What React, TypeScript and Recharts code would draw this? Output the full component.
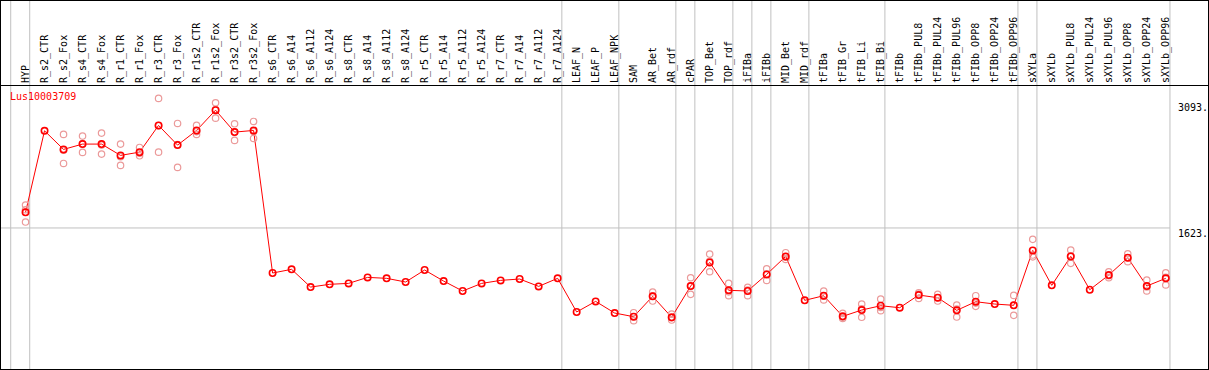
import React from 'react';
import { ComposedChart, Line, XAxis, YAxis, ReferenceLine } from 'recharts';

const categories = [
  'HYP', 'R_s2_CTR', 'R_s2_Fox', 'R_s4_CTR', 'R_s4_Fox', 'R_r1_CTR', 'R_r1_Fox', 'R_r3_CTR', 'R_r3_Fox',
  'R_r1s2_CTR', 'R_r1s2_Fox', 'R_r3s2_CTR', 'R_r3s2_Fox', 'R_s6_CTR', 'R_s6_A14', 'R_s6_A112', 'R_s6_A124',
  'R_s8_CTR', 'R_s8_A14', 'R_s8_A112', 'R_s8_A124', 'R_r5_CTR', 'R_r5_A14', 'R_r5_A112', 'R_r5_A124',
  'R_r7_CTR', 'R_r7_A14', 'R_r7_A112', 'R_r7_A124', 'LEAF_N', 'LEAF_P', 'LEAF_NPK', 'SAM', 'AR_Bet', 'AR_rdf',
  'cPAR', 'TOP_Bet', 'TOP_rdf', 'iFIBa', 'iFIBb', 'MID_Bet', 'MID_rdf', 'tFIBa', 'tFIB_Gr', 'tFIB_Li', 'tFIB_Bi',
  'tFIBb', 'tFIBb_PUL8', 'tFIBb_PUL24', 'tFIBb_PUL96', 'tFIBb_OPP8', 'tFIBb_OPP24', 'tFIBb_OPP96',
  'sXYLa', 'sXYLb', 'sXYLb_PUL8', 'sXYLb_PUL24', 'sXYLb_PUL96', 'sXYLb_OPP8', 'sXYLb_OPP24', 'sXYLb_OPP96',
];

// mean expression per sample
const meanValues = [
  1805, 2757, 2540, 2602, 2602, 2470, 2508, 2820, 2590, 2761, 2998, 2742, 2761,
  1097, 1140, 933, 965, 976, 1046, 1035, 992, 1132, 1003, 887, 976, 1011, 1027, 941, 1035,
  642, 766, 630, 587, 825, 580, 945, 1221, 895, 887, 1081, 1291, 778,
  832, 591, 665, 715, 692, 840, 809, 661, 762, 735, 720,
  1361, 953, 1291, 902, 1073, 1275, 945, 1035,
];

// replicates (null = hidden behind the mean marker)
const rep1 = [
  1890, null, 2715, 2695, 2730, 2602, 2563, 3135, 2843, 2820, 3084, 2839, 2866,
  null, null, null, null, null, null, null, null, null, null, null, null, null, null, null, null,
  null, null, null, 634, 875, 618, 1042, 1318, 976, 930, 1147, 1334, null,
  887, 626, 735, 793, null, 867, 848, 723, 832, null, 836,
  1490, null, 1365, null, 1112, 1322, 1015, 1100,
];
const rep2 = [
  1835, null, 2530, 2605, 2590, 2455, 2495, 2817, 2597, 2748, 3005, 2742, 2749,
  null, null, null, null, null, null, null, null, null, null, null, null, null, null, null, null,
  null, null, null, 587, 830, 574, 945, 1233, 877, 899, 1085, 1283, null,
  827, 580, 680, 695, null, 852, 809, 677, 746, null, 721,
  1307, null, 1298, null, 1065, 1275, 933, 1048,
];
const rep3 = [
  1692, null, 2376, 2505, 2485, 2353, 2465, 2508, 2330, 2715, 2905, 2645, 2668,
  null, null, null, null, null, null, null, null, null, null, null, null, null, null, null, null,
  null, null, null, 540, 770, 548, 848, 1112, 832, 832, 1011, 1256, null,
  782, 567, 580, 657, null, 801, 770, 583, 708, null, 603,
  1286, null, 1210, null, 1042, 1229, 887, 957,
];

const yTicks = [0, 1623, 3093];
// sample groups end after these indices (-1 = before the first sample)
const groupEnds = [-1, 0, 28, 31, 34, 35, 37, 38, 39, 41, 45, 52, 53, 60];

const data = categories.map((name, i) => ({
  idx: i,
  name,
  mean: meanValues[i],
  rep1: rep1[i],
  rep2: rep2[i],
  rep3: rep3[i],
}));

const MONO = '"DejaVu Sans Mono", monospace';
const GRID = '#c0c0c0';
const PINK = '#eb9a9a';

const CategoryTick = (props: any) => {
  const { x, payload } = props;
  return (
    <text
      transform={`translate(${x + 3.5},83) rotate(-90)`}
      fontSize={10}
      fontFamily={MONO}
      fill="#000"
      textAnchor="start"
    >
      {categories[payload.value]}
    </text>
  );
};

const ValueTick = (props: any) => {
  const { x, y, payload } = props;
  const v = payload.value;
  return (
    <text x={x} y={v === 0 ? y - 1 : y + 9} fontSize={10} fontFamily={MONO} fill="#000" textAnchor="start">
      {v === 0 ? '0' : `${v}.`}
    </text>
  );
};

export default function App() {
  const repDot = { r: 3.2, stroke: PINK, strokeWidth: 1.2, fill: 'none' };
  return (
    <div style={{ position: 'absolute', left: 0, top: 0, width: 1209, height: 370, background: '#fff' }}>
      <ComposedChart width={1209} height={370} data={data} margin={{ top: 0, right: 0, bottom: 3, left: 9 }}>
        <XAxis
          dataKey="idx"
          type="number"
          orientation="top"
          height={86}
          domain={[-0.87, 60.38]}
          ticks={categories.map((_, i) => i)}
          interval={0}
          axisLine={false}
          tickLine={false}
          tick={<CategoryTick />}
        />
        <YAxis
          orientation="right"
          width={36}
          domain={[0, 3280]}
          ticks={yTicks}
          axisLine={false}
          tickLine={false}
          tickSize={0}
          tickMargin={5}
          tick={<ValueTick />}
        />
        <ReferenceLine
          segment={[{ x: -1.4, y: 1623 }, { x: 60.22, y: 1623 }]}
          stroke={GRID}
          ifOverflow="visible"
        />
        {groupEnds.map((k) => (
          <ReferenceLine
            key={k}
            segment={[{ x: k + 0.22, y: -100 }, { x: k + 0.22, y: 5000 }]}
            stroke={GRID}
            ifOverflow="visible"
          />
        ))}
        <Line dataKey="rep1" stroke="none" dot={repDot} activeDot={false} isAnimationActive={false} />
        <Line dataKey="rep2" stroke="none" dot={repDot} activeDot={false} isAnimationActive={false} />
        <Line dataKey="rep3" stroke="none" dot={repDot} activeDot={false} isAnimationActive={false} />
        <Line
          dataKey="mean"
          stroke="#ff0000"
          strokeWidth={1}
          dot={{ r: 3.2, stroke: '#ff0000', strokeWidth: 1.6, fill: 'none' }}
          activeDot={false}
          isAnimationActive={false}
        />
      </ComposedChart>
      <div
        style={{
          position: 'absolute', left: 10, top: 92, fontFamily: MONO, fontSize: 10,
          lineHeight: '10px', color: '#ff0000',
        }}
      >
        Lus10003709
      </div>
      <div style={{ position: 'absolute', left: 0, right: 0, top: 85, height: 1, background: '#000' }} />
      <div
        style={{
          position: 'absolute', left: 0, top: 0, width: 1209, height: 370,
          boxSizing: 'border-box', border: '1px solid #000', pointerEvents: 'none',
        }}
      />
    </div>
  );
}
